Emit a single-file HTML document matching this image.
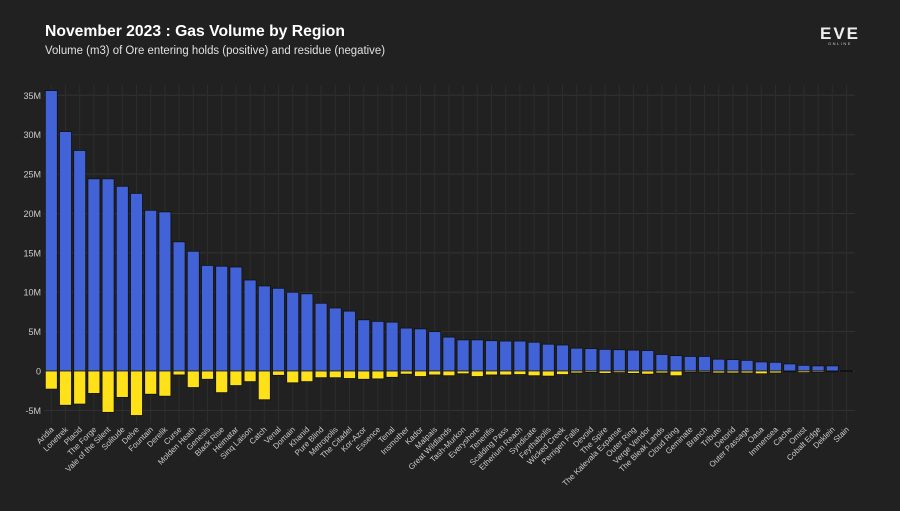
<!DOCTYPE html>
<html><head><meta charset="utf-8"><style>
html,body{margin:0;padding:0;background:#212121;}
body{width:900px;height:506px;overflow:hidden;font-family:"Liberation Sans",sans-serif;}
</style></head><body>
<svg id="chart" width="900" height="506" xmlns="http://www.w3.org/2000/svg">
<rect x="0" y="0" width="900" height="506" fill="#212121"/>
<text x="45" y="36" fill="#ffffff" font-size="16" font-weight="bold" textLength="300" lengthAdjust="spacingAndGlyphs">November 2023 : Gas Volume by Region</text>
<text x="45" y="54" fill="#e0e0e0" font-size="11.5" textLength="340" lengthAdjust="spacingAndGlyphs">Volume (m3) of Ore entering holds (positive) and residue (negative)</text>
<g>
<text x="840" y="39" fill="#eeeeee" font-size="17" font-weight="bold" text-anchor="middle" letter-spacing="2">EVE</text>
<text x="840" y="45" fill="#cccccc" font-size="4" text-anchor="middle" letter-spacing="1.5">ONLINE</text>
</g>
<g id="grid"></g><g id="bars"></g><g id="labels"></g>
</svg>
<script>
const categories=["Aridia","Lonetrek","Placid","The Forge","Vale of the Silent","Solitude","Delve","Fountain","Derelik","Curse","Molden Heath","Genesis","Black Rise","Heimatar","Sinq Laison","Catch","Venal","Domain","Khanid","Pure Blind","Metropolis","The Citadel","Kor-Azor","Essence","Tenal","Insmother","Kador","Malpais","Great Wildlands","Tash-Murkon","Everyshore","Tenerifis","Scalding Pass","Etherium Reach","Syndicate","Feythabolis","Wicked Creek","Perrigen Falls","Devoid","The Spire","The Kalevala Expanse","Outer Ring","Verge Vendor","The Bleak Lands","Cloud Ring","Geminate","Branch","Tribute","Detorid","Outer Passage","Oasa","Immensea","Cache","Omist","Cobalt Edge","Deklein","Stain"];
const positive=[35.6,30.4,28.0,24.4,24.4,23.45,22.55,20.4,20.2,16.4,15.2,13.4,13.3,13.2,11.55,10.8,10.5,10.0,9.8,8.6,8.0,7.6,6.5,6.3,6.2,5.45,5.35,5.0,4.3,3.95,3.95,3.85,3.8,3.8,3.65,3.4,3.3,2.9,2.85,2.75,2.7,2.65,2.6,2.1,1.95,1.85,1.85,1.5,1.45,1.35,1.15,1.1,0.9,0.72,0.65,0.65,0.05];
const negative=[-2.3,-4.35,-4.2,-2.85,-5.25,-3.35,-5.65,-2.95,-3.2,-0.5,-2.1,-1.05,-2.75,-1.85,-1.35,-3.65,-0.55,-1.5,-1.35,-0.85,-0.85,-0.95,-1.05,-1.0,-0.8,-0.4,-0.7,-0.5,-0.6,-0.35,-0.7,-0.5,-0.5,-0.45,-0.6,-0.65,-0.45,-0.25,-0.17,-0.3,-0.2,-0.3,-0.4,-0.25,-0.6,-0.15,-0.15,-0.25,-0.25,-0.25,-0.35,-0.25,-0.1,-0.2,-0.15,-0.1,-0.02];
const yTicks=[-5,0,5,10,15,20,25,30,35];
const yTickLabels=["-5M","0","5M","10M","15M","20M","25M","30M","35M"];

const NS="http://www.w3.org/2000/svg";
const x0=51.3, step=14.2, bw=12, yZero=371, pxPerM=7.877;
const xPos=i=>x0+i*step;
const yPos=v=>yZero-v*pxPerM;
const grid=document.getElementById('grid'),bars=document.getElementById('bars'),labels=document.getElementById('labels');
function mk(tag,attrs,parent){const e=document.createElementNS(NS,tag);for(const k in attrs)e.setAttribute(k,attrs[k]);parent.appendChild(e);return e;}
yTicks.forEach((t,i)=>{
  const l=mk('line',{x1:44,x2:855,y1:yPos(t),y2:yPos(t),stroke:'#333333','stroke-width':1},grid);
  
  
  const tx=mk('text',{x:41,y:yPos(t)+3.5,fill:'#cccccc','font-size':9,'text-anchor':'end'},labels);
  tx.textContent=yTickLabels[i];
  
  
});
categories.forEach((c,i)=>{
  const l=mk('line',{x1:xPos(i),x2:xPos(i),y1:85,y2:423,stroke:'#2d2d2d','stroke-width':1},grid);
  
  
});
categories.forEach((c,i)=>{
  const x=xPos(i)-bw/2;
  const p=mk('rect',{x:x,y:yPos(positive[i]),width:bw,height:Math.max(0.5,yZero-yPos(positive[i])),fill:'#4263d8',stroke:'#111',"stroke-width":0.8},bars);
  
  
  const n=mk('rect',{x:x,y:yZero,width:bw,height:Math.max(0.5,yPos(negative[i])-yZero),fill:'#ffe119',stroke:'#111',"stroke-width":0.8},bars);
  
  
  const tx=mk('text',{x:xPos(i)+3,y:430,fill:'#cccccc','font-size':8,'text-anchor':'end',transform:`rotate(-45 ${xPos(i)+3} 430)`},labels);
  tx.textContent=c;
  
  
});
</script>
</body></html>
